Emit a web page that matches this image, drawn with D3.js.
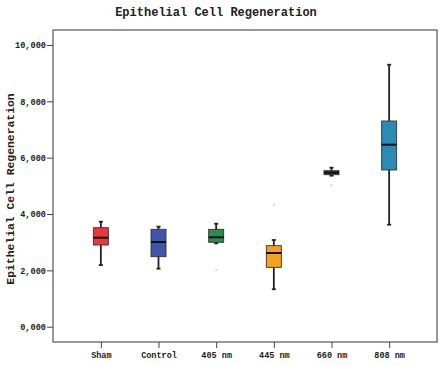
<!DOCTYPE html>
<html>
<head>
<meta charset="utf-8">
<script src="https://cdn.jsdelivr.net/npm/d3@7"></script>
<style>
  body { margin: 0; background: #fff; }
  text { font-family: "Liberation Mono", "DejaVu Sans Mono", monospace; font-weight: bold; }
</style>
</head>
<body>
<div id="chart"></div>
<script>
// Data
const groups = ["Sham", "Control", "405 nm", "445 nm", "660 nm", "808 nm"];
const whiskerLow  = [2190, 2060, 2960, 1330, 5360, 3620];
const q1          = [2900, 2485, 2996, 2108, 5396, 5563];
const medians     = [3159, 3007, 3173, 2616, 5467, 6461];
const q3          = [3514, 3457, 3457, 2876, 5538, 7302];
const whiskerHigh = [3727, 3550, 3656, 3078, 5644, 9300];
const colors = ["#e8383d", "#3f55a8", "#2e8a4e", "#f5a21f", "#7a2448", "#2b8bb3"];
const outliers = [[2, 2013], [3, 4320], [4, 5030]];
const yTicks = [0, 2000, 4000, 6000, 8000, 10000];
const yTickLabels = ["0,000", "2,000", "4,000", "6,000", "8,000", "10,000"];

const width = 445, height = 366;
const plotLeft = 53, plotRight = 437, plotTop = 30, plotBottom = 342;

const svg = d3.select("#chart")
  .append("svg")
  .attr("width", width)
  .attr("height", height);

const x = d3.scalePoint()
  .domain(groups)
  .range([plotLeft, plotRight])
  .padding(0.83);

const y = d3.scaleLinear()
  .domain([0, 10000])
  .range([326.7, 45]);

// Frame
svg.append("rect")
  .attr("x", plotLeft)
  .attr("y", plotTop)
  .attr("width", plotRight - plotLeft)
  .attr("height", plotBottom - plotTop)
  .attr("fill", "none")
  .attr("stroke", "#555")
  .attr("stroke-width", 1.2);

// Y axis
const yAxis = svg.append("g")
  .attr("transform", `translate(${plotLeft},0)`)
  .call(d3.axisLeft(y).tickValues(yTicks)
    .tickFormat((d, i) => yTickLabels[i]).tickSize(6).tickPadding(1));
yAxis.select(".domain").remove();
yAxis.selectAll("line").attr("stroke", "#444");
yAxis.selectAll("text").style("font-size", "8.6px").attr("fill", "#222");

// X axis
const xAxis = svg.append("g")
  .attr("transform", `translate(0,${plotBottom})`)
  .call(d3.axisBottom(x).tickSize(6).tickPadding(4));
xAxis.select(".domain").remove();
xAxis.selectAll("line").attr("stroke", "#444");
xAxis.selectAll("text").style("font-size", "8.5px").attr("fill", "#222");

// Boxes
const boxW = 15, capW = 4;
const data = groups.map((g, i) => ({
  g, lo: whiskerLow[i], q1: q1[i], med: medians[i], q3: q3[i], hi: whiskerHigh[i], c: colors[i]
}));

const box = svg.selectAll(".box")
  .data(data)
  .enter()
  .append("g")
  .attr("class", "box");

box.append("line")
  .attr("x1", d => x(d.g)).attr("x2", d => x(d.g))
  .attr("y1", d => y(d.hi)).attr("y2", d => y(d.lo))
  .attr("stroke", "#222").attr("stroke-width", 1.8);

box.append("line")
  .attr("x1", d => x(d.g) - capW / 2).attr("x2", d => x(d.g) + capW / 2)
  .attr("y1", d => y(d.hi)).attr("y2", d => y(d.hi))
  .attr("stroke", "#222").attr("stroke-width", 1.8);

box.append("line")
  .attr("x1", d => x(d.g) - capW / 2).attr("x2", d => x(d.g) + capW / 2)
  .attr("y1", d => y(d.lo)).attr("y2", d => y(d.lo))
  .attr("stroke", "#222").attr("stroke-width", 1.8);

box.append("rect")
  .attr("x", d => x(d.g) - boxW / 2)
  .attr("y", d => y(d.q3))
  .attr("width", boxW)
  .attr("height", d => y(d.q1) - y(d.q3))
  .attr("fill", d => d.c)
  .attr("stroke", "#333")
  .attr("stroke-width", 0.9);

box.append("line")
  .attr("x1", d => x(d.g) - boxW / 2).attr("x2", d => x(d.g) + boxW / 2)
  .attr("y1", d => y(d.med)).attr("y2", d => y(d.med))
  .attr("stroke", "#111").attr("stroke-width", 2);

// Faint outlier marks
svg.selectAll(".out")
  .data(outliers)
  .enter()
  .append("circle")
  .attr("cx", d => x(groups[d[0]]))
  .attr("cy", d => y(d[1]))
  .attr("r", 1)
  .attr("fill", "#ccc");

// Titles
svg.append("text")
  .attr("x", 216)
  .attr("y", 16)
  .attr("text-anchor", "middle")
  .style("font-size", "12px")
  .attr("fill", "#222")
  .text("Epithelial Cell Regeneration");

svg.append("text")
  .attr("transform", "translate(14,189) rotate(-90)")
  .attr("text-anchor", "middle")
  .style("font-size", "11.4px")
  .attr("fill", "#222")
  .text("Epithelial Cell Regeneration");
</script>
</body>
</html>
